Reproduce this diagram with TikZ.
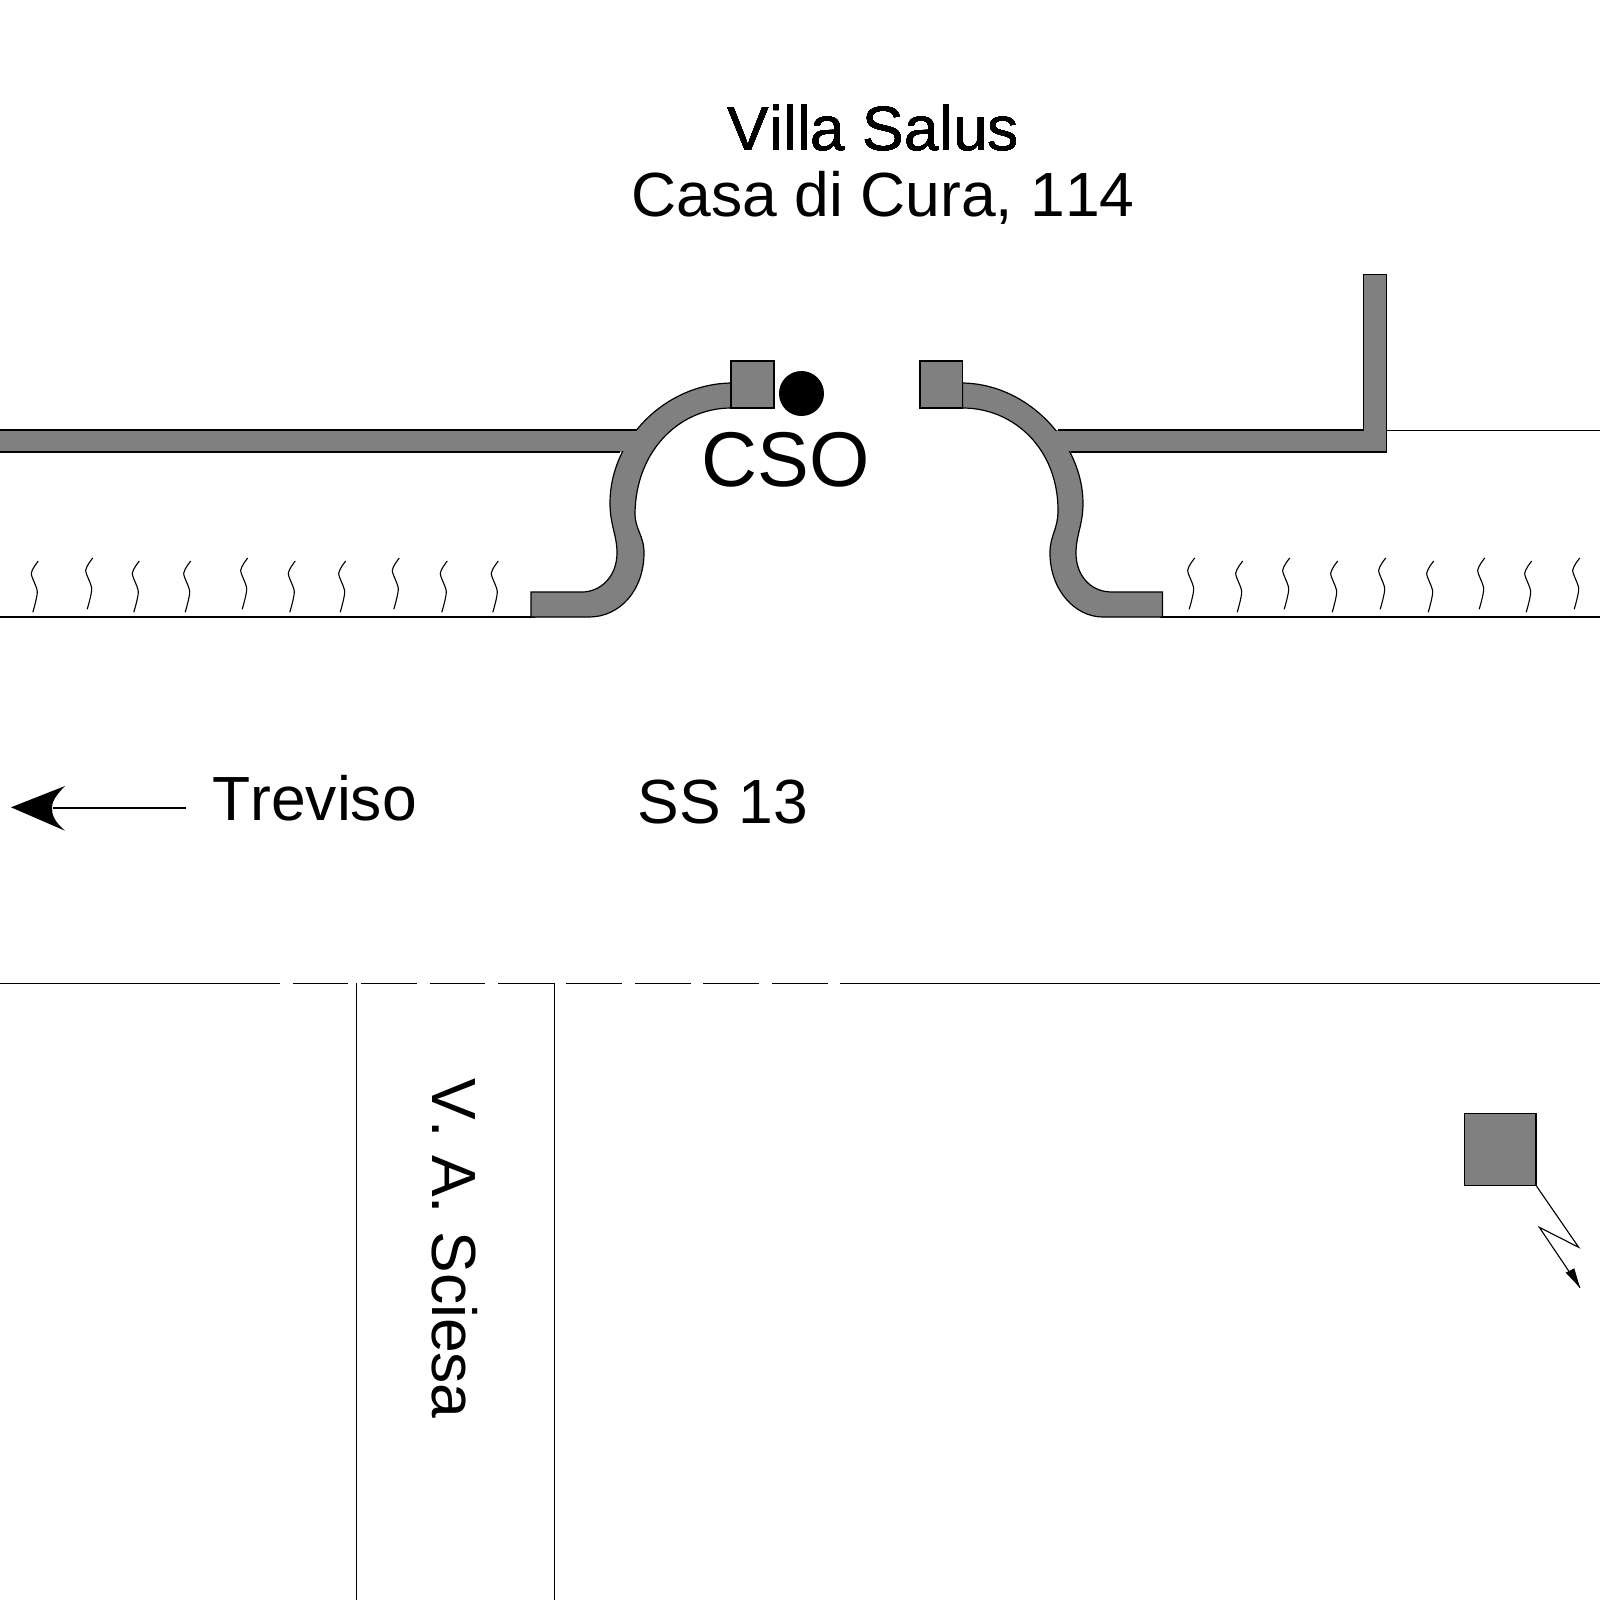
\documentclass[tikz,border=0pt]{standalone}
\usepackage{fontspec}
\setmainfont[Kerning=Off]{Liberation Sans}
\tikzset{
  wallshape/.style={fill=wallgray,draw=black,line width=0.3pt,line join=miter},
  thin line/.style={draw=black,line width=0.28pt},
  lab/.style={inner sep=0pt,anchor=base west,font=\fontsize{15.6}{18}\selectfont},
  biglab/.style={inner sep=0pt,anchor=base west,font=\fontsize{19.4}{22}\selectfont}
}
\definecolor{wallgray}{HTML}{808080}
\newcommand{\wavemark}[2]{\draw[thin line] plot[smooth,tension=0.45] coordinates {(#1,#2) (#1-7,#2+12.3) (#1-1,#2+30.7) (#1-5.5,#2+51.3)};}
\begin{document}
\begin{tikzpicture}[x=0.25pt,y=-0.25pt]
\useasboundingbox (0,0) rectangle (1600,1600);
% thin lines
\draw[thin line] (0,617) -- (535,617);
\draw[thin line] (1160,617) -- (1600,617);
\draw[thin line] (1386.7,430.7) -- (1600,430.7);
\draw[thin line] (0,983.3) -- (280,983.3);
\foreach \a/\b in {292.7/348,360.7/416.8,429.8/484.8,497.8/553.6,566/622,635/690.7,703/758.7,771.7/828}
  \draw[thin line] (\a,983.3) -- (\b,983.3);
\draw[thin line] (840,983.3) -- (1600,983.3);
\draw[thin line] (356.7,983.3) -- (356.7,1600);
\draw[thin line] (554.3,983.3) -- (554.3,1600);
% left wall and curved entrance
\fill[wallgray] (-2,430) rectangle (640,452);
\draw[thin line] (-2,430) -- (636,430);
\draw[thin line] (-2,452) -- (620,452);
\draw[wallshape] (531,592) -- (582,592)
  .. controls (600,592) and (617,577) .. (617,553)
  .. controls (617,535) and (610,525) .. (610,503)
  .. controls (610,440) and (665,384) .. (731,383)
  -- (731,408)
  .. controls (680,408) and (636,450) .. (635,513)
  .. controls (635,530) and (644,535) .. (644,553)
  .. controls (644,590) and (620,617) .. (589,617)
  -- (531,617) -- cycle;
\fill[wallgray] (615,431) rectangle (645,451);
% right wall and curved entrance
\path[fill=wallgray] (1050,430) rectangle (1386.7,452);
\path[fill=wallgray] (1363.3,274.3) rectangle (1386.7,452);
\draw[thin line] (1058,430) -- (1363.3,430) -- (1363.3,274.3) -- (1386.7,274.3) -- (1386.7,452) -- (1071,452);
\draw[wallshape] (962.5,383)
  .. controls (1030,384) and (1083,445) .. (1083,503)
  .. controls (1083,525) and (1076,535) .. (1076,553)
  .. controls (1076,575) and (1090,592) .. (1112,592)
  -- (1162.5,592) -- (1162.5,617) -- (1103,617)
  .. controls (1075,617) and (1050,590) .. (1050,553)
  .. controls (1050,535) and (1058,530) .. (1058,510)
  .. controls (1058,450) and (1015,408) .. (962.5,408) -- cycle;
\fill[wallgray] (1045,431) rectangle (1073,451);
% gate posts
\draw[wallshape] (731,361) rectangle (774,408);
\draw[wallshape] (920,361) rectangle (962.5,408);
% CSO dot
\fill[black] (801.5,393.5) circle (22.5);
% grass marks
\foreach \x/\y in {38.3/561,92.7/558,139.3/561,190.7/561,247.7/558,295.3/561,345.7/561,399.3/558,447.3/561,498.3/561,
  1194.7/558,1242.7/561,1289.7/558,1337.7/561,1385.7/558,1433.7/561,1484.7/558,1531.7/561,1579.7/558}
  \wavemark{\x}{\y}
% labels
\node[lab] (villa) at (727,150) {Villa Salus};
\node[lab] (casa) at (631,216.5) {Casa di Cura, 114};
\node[biglab] (cso) at (701,486.5) {CSO};
\node[lab] (treviso) at (211.5,820) {Treviso};
\node[lab] (ss) at (637,823) {SS 13};
\node[lab,rotate=-90] (sciesa) at (432,1078) {V. A. Sciesa};
% Treviso arrow
\coordinate (arrStart) at (185.7,808);
\coordinate (arrNotch) at (53,808);
\draw[thin line] (arrStart) -- (arrNotch);
\fill[black] (11,807.3) -- (65,786) .. controls (54,797) and (52,803) .. (52,808) .. controls (52,815) and (54,821) .. (65,830.7) -- cycle;
% lower right box and signal
\node[draw=black,line width=0.4pt,fill=wallgray,inner sep=0pt,minimum width=17.85pt,minimum height=18pt,rectangle] (box) at (1500,1149.3) {};
\coordinate (z1) at (1578.7,1247.3);
\coordinate (z2) at (1539.3,1227.3);
\coordinate (ztip) at (1580,1287.7);
\draw[thin line] (box.south east) -- (z1) -- (z2) -- (ztip);
\fill[black] (ztip) -- (1565.7,1272.7) -- (1574.3,1268.3) -- cycle;
\end{tikzpicture}
\end{document}
